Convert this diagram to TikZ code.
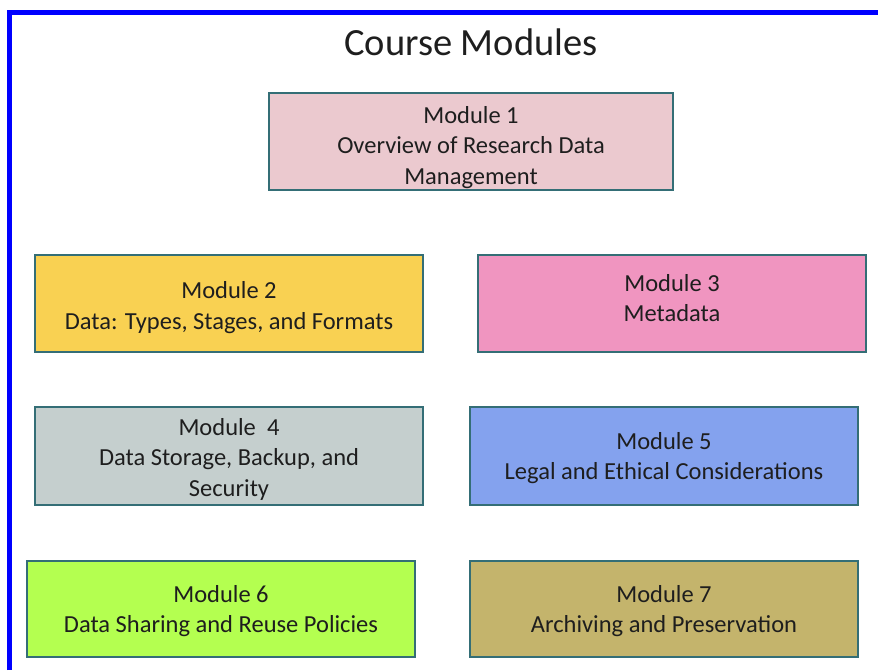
\documentclass[tikz,border=0pt]{standalone}
\usepackage{fontspec}
\setmainfont{Carlito}
\definecolor{frameblue}{RGB}{0,0,255}
\definecolor{edgeteal}{RGB}{52,110,118}
\definecolor{inkdark}{RGB}{30,30,30}
\definecolor{modone}{RGB}{235,201,207}
\definecolor{modtwo}{RGB}{249,209,82}
\definecolor{modthree}{RGB}{240,149,192}
\definecolor{modfour}{RGB}{197,207,206}
\definecolor{modfive}{RGB}{132,162,238}
\definecolor{modsix}{RGB}{180,255,80}
\definecolor{modseven}{RGB}{196,180,108}
% strut that pushes the first line down inside a box
\newcommand{\padtop}[1]{\rule{0pt}{#1pt}}
\tikzset{modbox/.style={draw=edgeteal, line width=1.6pt, text=inkdark, align=center,
  inner sep=0pt, minimum width=388pt, minimum height=97pt,
  font=\fontsize{24.5}{30.5}\selectfont}}
\begin{document}
\begin{tikzpicture}[x=1pt,y=-1pt]
\useasboundingbox (0,0) rectangle (878,670);
\draw[frameblue, line width=5pt] (9.5,670)--(9.5,12)--(878,12);
\node[inkdark, font=\fontsize{38.5}{46}\selectfont] (title) at (471,42) {Course Modules};
\node[modbox, fill=modone, minimum width=404pt] (m1) at (471,141.5) {\padtop{29}Module 1\\Overview of Research Data\\Management};
\node[modbox, fill=modtwo] (m2) at (229,303.5) {\padtop{25}Module 2\\Data: Types, Stages, and Formats};
\node[modbox, fill=modthree] (m3) at (672,303.5) {Module 3\\Metadata\rule[-11pt]{0pt}{0pt}};
\node[modbox, fill=modfour, minimum height=98pt] (m4) at (229,456) {\padtop{23}Module\ \ 4\\Data Storage, Backup, and\\Security};
\node[modbox, fill=modfive, minimum height=98pt] (m5) at (664,456) {\padtop{21}Module 5\\Legal and Ethical Considerations};
\node[modbox, fill=modsix, minimum height=96pt] (m6) at (221,609) {\padtop{21}Module 6\\Data Sharing and Reuse Policies};
\node[modbox, fill=modseven, minimum height=96pt] (m7) at (664,609) {\padtop{21}Module 7\\Archiving and Preservation};
\end{tikzpicture}
\end{document}
